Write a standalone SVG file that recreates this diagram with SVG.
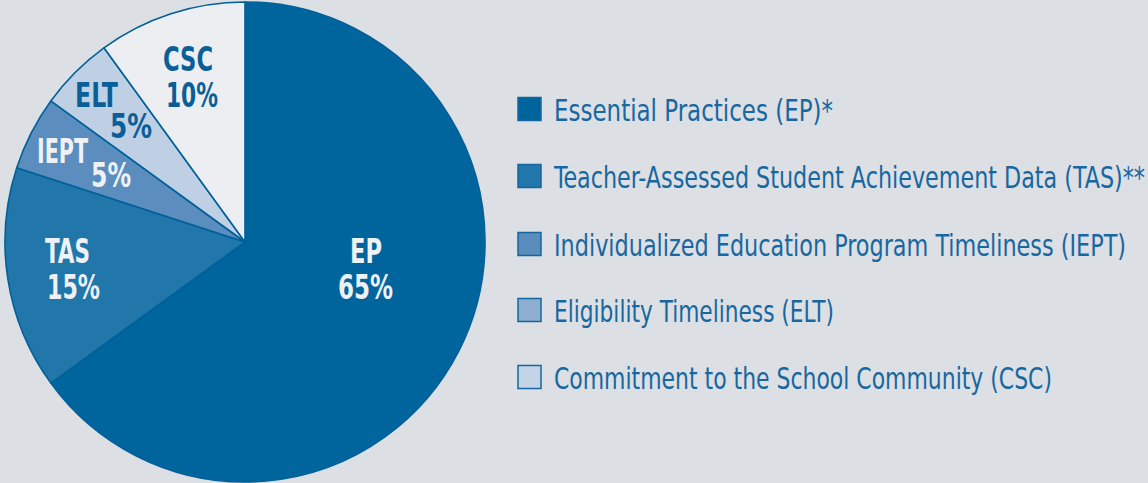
<svg xmlns="http://www.w3.org/2000/svg" width="1148" height="483" viewBox="0 0 1148 483">
<style>
.wedge{stroke:#00609a;stroke-width:1.6;stroke-linejoin:round}
.lbl{font-family:"Liberation Sans Narrow","DejaVu Sans Condensed","Liberation Sans",sans-serif;font-weight:bold;font-size:34px;font-stretch:condensed}
.lt{fill:#eef1f5}
.dk{fill:#0b5f98}
.leg{font-family:"Liberation Sans Narrow","DejaVu Sans Condensed","Liberation Sans",sans-serif;font-size:30px;fill:#1767a0;font-stretch:condensed}
.sw{stroke:#16679f;stroke-width:1.5}
</style>
<rect width="1148" height="483" fill="#dcdfe3"/>
<g id="pie">
<g id="node-EP"><path class="wedge" fill="#00659d" d="M245,242 L245,2 A240,240 0 1 1 50.84,383.07 Z"/>
<text class="lbl lt" x="350" y="263" textLength="32" lengthAdjust="spacingAndGlyphs">EP</text>
<text class="lbl lt" x="338" y="299" textLength="55" lengthAdjust="spacingAndGlyphs">65%</text></g>
<g id="node-TAS"><path class="wedge" fill="#2176aa" d="M245,242 L50.84,383.07 A240,240 0 0 1 16.75,167.84 Z"/>
<text class="lbl lt" x="45" y="263" textLength="45" lengthAdjust="spacingAndGlyphs">TAS</text>
<text class="lbl lt" x="47" y="299" textLength="53" lengthAdjust="spacingAndGlyphs">15%</text></g>
<g id="node-IEPT"><path class="wedge" fill="#5b8ebe" d="M245,242 L16.75,167.84 A240,240 0 0 1 50.84,100.93 Z"/>
<text class="lbl lt" x="37" y="163" textLength="51" lengthAdjust="spacingAndGlyphs">IEPT</text>
<text class="lbl lt" x="91" y="187" textLength="40" lengthAdjust="spacingAndGlyphs">5%</text></g>
<g id="node-ELT"><path class="wedge" fill="#c0d0e4" d="M245,242 L50.84,100.93 A240,240 0 0 1 103.93,47.84 Z"/>
<text class="lbl dk" x="75" y="107" textLength="43" lengthAdjust="spacingAndGlyphs">ELT</text>
<text class="lbl dk" x="110" y="138" textLength="42" lengthAdjust="spacingAndGlyphs">5%</text></g>
<g id="node-CSC"><path class="wedge" fill="#eceef1" d="M245,242 L103.93,47.84 A240,240 0 0 1 245,2 Z"/>
<text class="lbl dk" x="163" y="71" textLength="50" lengthAdjust="spacingAndGlyphs">CSC</text>
<text class="lbl dk" x="166" y="107" textLength="52" lengthAdjust="spacingAndGlyphs">10%</text></g>
</g>
<g id="legend">
<g id="legend-EP"><rect class="sw" x="518" y="97.5" width="23" height="23" fill="#00649c"/>
<text class="leg" x="554" y="121" textLength="279" lengthAdjust="spacingAndGlyphs">Essential Practices (EP)*</text></g>
<g id="legend-TAS"><rect class="sw" x="518" y="164.5" width="23" height="23" fill="#2176ac"/>
<text class="leg" x="554" y="188" textLength="591" lengthAdjust="spacingAndGlyphs">Teacher-Assessed Student Achievement Data (TAS)**</text></g>
<g id="legend-IEPT"><rect class="sw" x="518" y="232.5" width="23" height="23" fill="#5a8cbc"/>
<text class="leg" x="554" y="256" textLength="572" lengthAdjust="spacingAndGlyphs">Individualized Education Program Timeliness (IEPT)</text></g>
<g id="legend-ELT"><rect class="sw" x="518" y="298.5" width="23" height="23" fill="#8eaed0"/>
<text class="leg" x="554" y="322" textLength="280" lengthAdjust="spacingAndGlyphs">Eligibility Timeliness (ELT)</text></g>
<g id="legend-CSC"><rect class="sw" x="518" y="365.5" width="23" height="23" fill="#c3d4e6"/>
<text class="leg" x="554" y="389" textLength="498" lengthAdjust="spacingAndGlyphs">Commitment to the School Community (CSC)</text></g>
</g>
<g id="connectors"/>
</svg>
